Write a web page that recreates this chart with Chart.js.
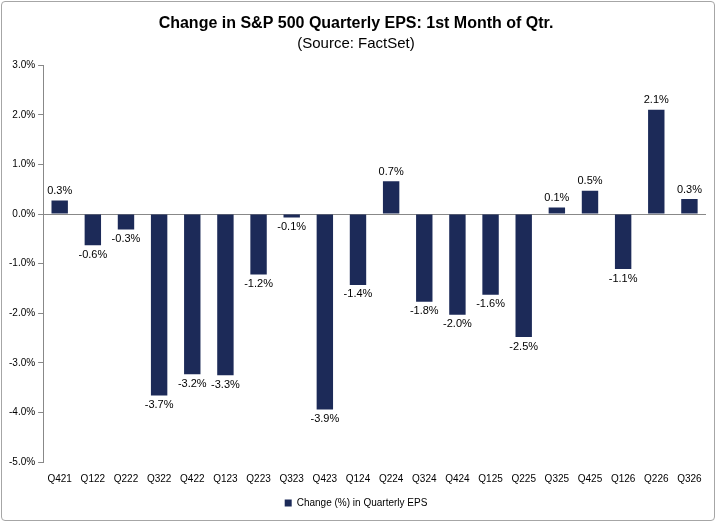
<!DOCTYPE html>
<html><head>
<script src="https://cdn.jsdelivr.net/npm/chart.js@4"></script>
<style>
body{margin:0;background:#fff;}
#wrap{position:absolute;left:1px;top:1px;width:712px;height:518px;border:1px solid #a6a6a6;border-radius:4px;}
</style></head>
<body>
<div id="wrap"><canvas id="c"></canvas></div>
<script>
// quarters and EPS change values
const quarters = ['Q421','Q122','Q222','Q322','Q422','Q123','Q223','Q323','Q423','Q124','Q224','Q324','Q424','Q125','Q225','Q325','Q425','Q126','Q226','Q326'];
const epsChange = [0.27,-0.63,-0.31,-3.66,-3.23,-3.25,-1.22,-0.07,-3.94,-1.43,0.66,-1.77,-2.03,-1.63,-2.48,0.13,0.47,-1.11,2.1,0.3];

const barLabels = {
    id: 'barLabels',
    afterDatasetsDraw(chart) {
        const ctx = chart.ctx;
        const meta = chart.getDatasetMeta(0);
        ctx.save();
        ctx.font = '11px "Liberation Sans", Arial';
        ctx.fillStyle = '#000';
        ctx.textAlign = 'center';
        meta.data.forEach((bar, i) => {
            const v = epsChange[i];
            if (v >= 0) {
                ctx.textBaseline = 'bottom';
                ctx.fillText(v.toFixed(1) + '%', bar.x, bar.y - 4);
            } else {
                ctx.textBaseline = 'top';
                ctx.fillText(v.toFixed(1) + '%', bar.x, bar.y + 4);
            }
        });
        ctx.restore();
    }
};

const wrap = document.getElementById('wrap');
const canvas = document.getElementById('c');
canvas.width = 712; canvas.height = 518;
canvas.style.width = '712px'; canvas.style.height = '518px';

new Chart(canvas.getContext('2d'), {
    type: 'bar',
    data: {
        labels: quarters,
        datasets: [{
            label: 'Change (%) in Quarterly EPS',
            data: epsChange,
            backgroundColor: '#1c2a58',
            categoryPercentage: 0.9,
            barPercentage: 0.55
        }]
    },
    options: {
        responsive: false,
        animation: false,
        layout: { padding: { left: 4, right: 8, top: 0, bottom: 2 } },
        scales: {
            x: {
                grid: { display: false },
                border: { display: false },
                ticks: { color: '#000', font: { size: 10, family: '"Liberation Sans", Arial' }, maxRotation: 0, autoSkip: false }
            },
            y: {
                min: -5, max: 3,
                ticks: { stepSize: 1, color: '#000', font: { size: 10, family: '"Liberation Sans", Arial' },
                    callback: v => v.toFixed(1) + '%' },
                grid: {
                    drawTicks: true,
                    color: ctx => ctx.tick && ctx.tick.value === 0 ? '#888' : 'rgba(0,0,0,0)',
                    tickColor: '#888', tickLength: 5
                },
                border: { color: '#888' }
            }
        },
        plugins: {
            title: {
                display: true,
                text: ['Change in S&P 500 Quarterly EPS: 1st Month of Qtr.'],
                color: '#000',
                font: { size: 16, weight: 'bold', family: '"Liberation Sans", Arial' },
                padding: { top: 12, bottom: 0 }
            },
            subtitle: {
                display: true,
                text: '(Source: FactSet)',
                color: '#000',
                font: { size: 15, family: '"Liberation Sans", Arial' },
                padding: { top: 2, bottom: 12 }
            },
            legend: {
                position: 'bottom',
                labels: { color: '#000', boxWidth: 7, boxHeight: 7, font: { size: 10, family: '"Liberation Sans", Arial' } }
            },
            tooltip: { enabled: false }
        }
    },
    plugins: [barLabels]
});
</script>
</body></html>
